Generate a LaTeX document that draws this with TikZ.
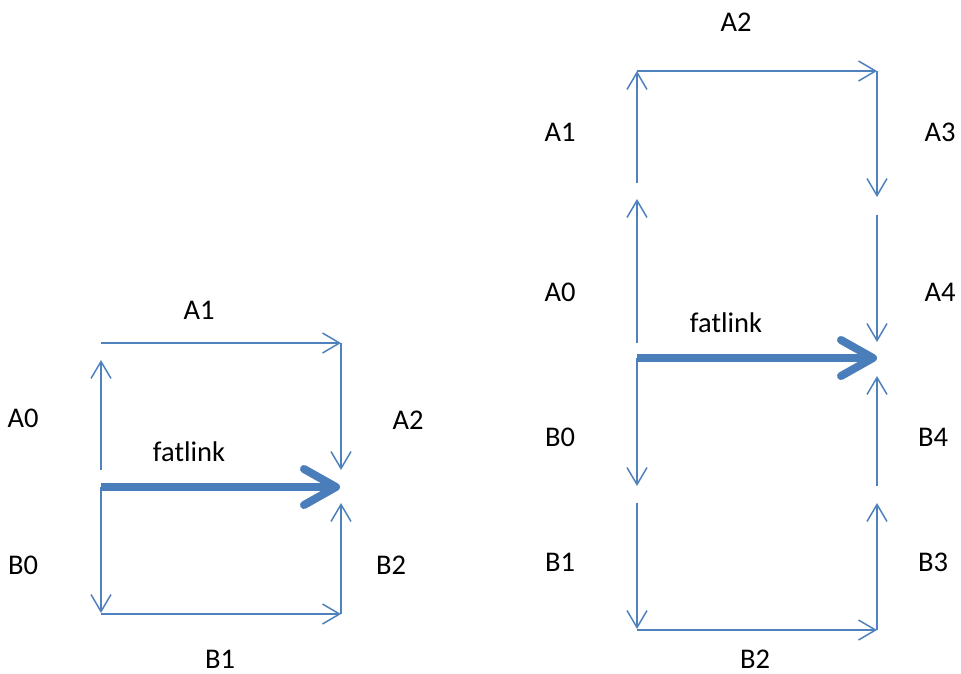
\documentclass[tikz,border=0pt]{standalone}
\usepackage{fontspec}
\setmainfont{Carlito}
\usetikzlibrary{arrows.meta}
\definecolor{lnk}{HTML}{4F81BD}
\definecolor{fat}{HTML}{4A7EBB}
\begin{document}
\begin{tikzpicture}[x=1pt,y=-1pt,
  thin link/.style={draw=lnk,line width=1.5pt,-{Straight Barb[length=17pt,width=20pt]}},
  fat link/.style={draw=fat,line width=8pt,-{Straight Barb[round,length=32pt,width=36pt]}},
  lbl/.style={inner sep=0pt,font=\fontsize{28.5}{33}\selectfont}]
\useasboundingbox (0,0) rectangle (961,673);
% ---------- left figure ----------
\coordinate (la0s) at (101,470); \coordinate (la0e) at (101,360);
\coordinate (ltl) at (101,343); \coordinate (ltr) at (341,343);
\coordinate (la2e) at (341,470);
\coordinate (lfs) at (101,487); \coordinate (lfe) at (340,487);
\coordinate (lb0e) at (101,613);
\coordinate (lbl) at (101,614); \coordinate (lbr) at (341,614);
\coordinate (lb2e) at (341,503);
\draw[thin link] (la0s) -- (la0e);
\draw[thin link] (ltl) -- (ltr);
\draw[thin link] (ltr) -- (la2e);
\draw[thin link] (lfs) -- (lb0e);
\draw[thin link] (lbl) -- (lbr);
\draw[thin link] (lbr) -- (lb2e);
\draw[fat link] (lfs) -- (lfe);
\node[lbl] (tA0l) at (23,418) {A0};
\node[lbl] (tA1l) at (199,310) {A1};
\node[lbl] (tA2l) at (408,420) {A2};
\node[lbl] (tFl) at (189,452) {fatlink};
\node[lbl] (tB0l) at (23,565) {B0};
\node[lbl] (tB1l) at (220,659) {B1};
\node[lbl] (tB2l) at (391,565) {B2};
% ---------- right figure ----------
\coordinate (ra1s) at (637,183); \coordinate (rtl) at (637,71);
\coordinate (rtr) at (877,71); \coordinate (ra3e) at (877,197);
\coordinate (ra0s) at (637,343); \coordinate (ra0e) at (637,199);
\coordinate (ra4s) at (877,215); \coordinate (ra4e) at (877,342);
\coordinate (rfs) at (637,358); \coordinate (rfe) at (877,358);
\coordinate (rb0e) at (637,486);
\coordinate (rb1s) at (637,503); \coordinate (rb1e) at (637,629);
\coordinate (rbl) at (637,630); \coordinate (rbr) at (877,630);
\coordinate (rb3e) at (877,503);
\coordinate (rb4s) at (877,486); \coordinate (rb4e) at (877,376);
\draw[thin link] (ra1s) -- (rtl);
\draw[thin link] (rtl) -- (rtr);
\draw[thin link] (rtr) -- (ra3e);
\draw[thin link] (ra0s) -- (ra0e);
\draw[thin link] (ra4s) -- (ra4e);
\draw[thin link] (rfs) -- (rb0e);
\draw[thin link] (rb1s) -- (rb1e);
\draw[thin link] (rbl) -- (rbr);
\draw[thin link] (rbr) -- (rb3e);
\draw[thin link] (rb4s) -- (rb4e);
\draw[fat link] (rfs) -- (rfe);
\node[lbl] (tA2r) at (736,22) {A2};
\node[lbl] (tA1r) at (560,132) {A1};
\node[lbl] (tA3r) at (940,132) {A3};
\node[lbl] (tA0r) at (560,292) {A0};
\node[lbl] (tA4r) at (940,292) {A4};
\node[lbl] (tFr) at (726,323) {fatlink};
\node[lbl] (tB0r) at (560,437) {B0};
\node[lbl] (tB4r) at (933,437) {B4};
\node[lbl] (tB1r) at (560,562) {B1};
\node[lbl] (tB3r) at (933,562) {B3};
\node[lbl] (tB2r) at (755,659) {B2};
\end{tikzpicture}
\end{document}
